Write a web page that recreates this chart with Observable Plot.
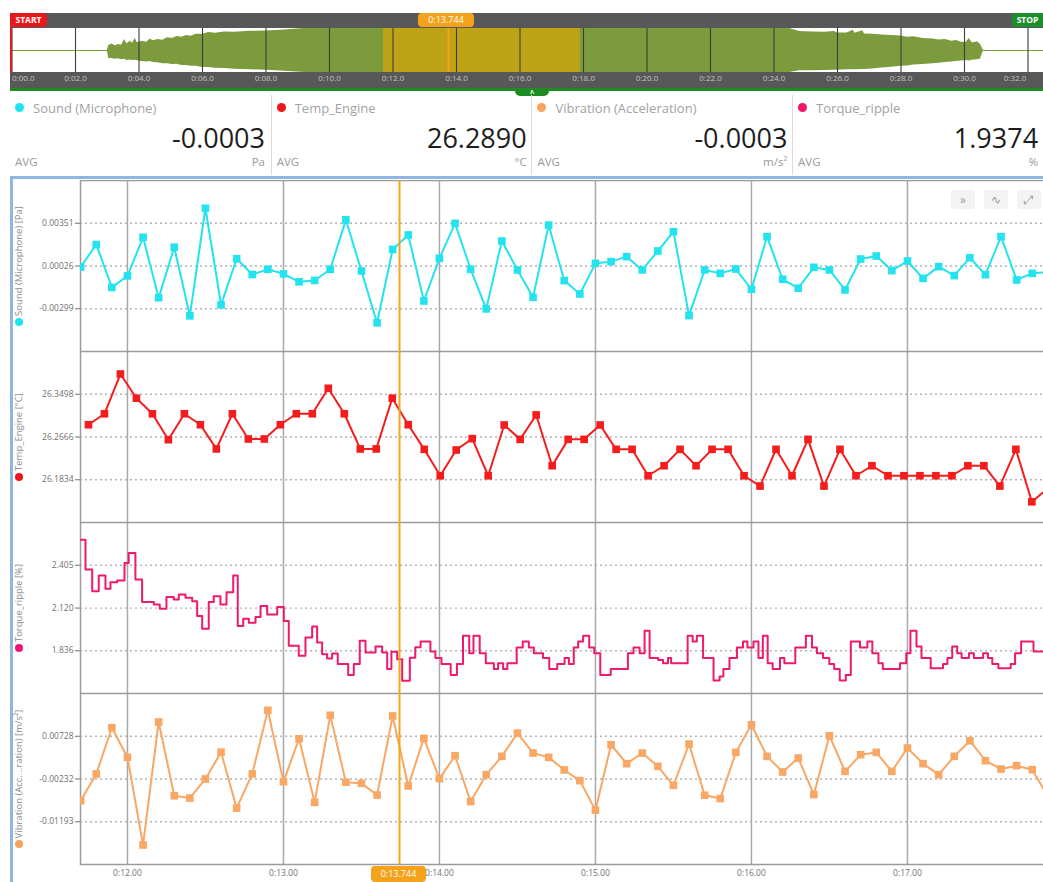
<!DOCTYPE html>
<html>
<head>
<meta charset="utf-8">
<script src="https://cdn.jsdelivr.net/npm/d3@7"></script>
<script src="https://cdn.jsdelivr.net/npm/@observablehq/plot@0.6"></script>
<style>
html,body{margin:0;padding:0;}
body{width:1043px;height:882px;overflow:hidden;position:relative;background:#fff;font-family:"Open Sans","Noto Sans",sans-serif;}
.a{position:absolute;}
.card{position:absolute;top:95px;height:80px;width:260px;}
.cname{position:absolute;left:23px;top:5px;font-size:13px;line-height:16px;color:#a2a2a2;white-space:nowrap;}
.cdot{position:absolute;left:5px;top:8px;width:9px;height:9px;border-radius:50%;}
.cval{position:absolute;right:5px;top:29px;font-size:27px;line-height:27px;color:#1d1d1d;white-space:nowrap;}
.cagg{position:absolute;left:5px;top:61px;font-size:11.5px;line-height:12px;color:#9a9a9a;}
.cunit{position:absolute;right:5px;top:61px;font-size:11.5px;line-height:12px;color:#9a9a9a;white-space:nowrap;}
.vlab{position:absolute;width:172px;height:14px;line-height:14px;text-align:center;transform:rotate(-90deg);font-size:9.5px;color:#8c8c8c;white-space:nowrap;}
.vdot{display:inline-block;width:8px;height:8px;border-radius:50%;vertical-align:-1px;margin-right:2px;}
.icon{position:absolute;top:190px;width:24px;height:19px;background:#f3f3f3;border-radius:3px;color:#9a9a9a;font-size:12px;line-height:19px;text-align:center;}
.tag{position:absolute;color:#fff;font-size:9px;line-height:14px;height:14px;text-align:center;white-space:nowrap;}
</style>
</head>
<body>
<script>
// ---------------- data ----------------
const cursorTime = 13.744;
const selection = [11.7, 17.9];
const overviewTicks = [0, 2, 4, 6, 8, 10, 12, 14, 16, 18, 20, 22, 24, 26, 28, 30, 32];
// waveform envelope of the overview strip (fraction of half height, above / below centre)
const envT   = [3.00, 3.05, 3.15, 3.25, 3.35, 3.45, 3.55, 3.62, 3.72, 3.80, 3.88, 3.95, 4.10, 4.25, 4.35, 4.45, 4.60, 4.75, 4.90, 5.05, 5.20, 5.35, 5.50, 5.65, 5.80, 6.00, 6.20, 6.40, 6.70, 7.00, 7.50, 8.00, 8.60, 9.20,
                24.50, 24.80, 25.20, 25.60, 25.90, 26.00, 26.30, 26.50, 26.55, 26.80, 26.85, 27.10, 27.40, 27.70, 28.00, 28.20, 28.40, 28.70, 29.00, 29.20, 29.40, 29.60, 29.75, 29.90, 30.05, 30.15, 30.25, 30.40, 30.50, 30.60];
const envTop = [0, 0.23, 0.30, 0.22, 0.27, 0.24, 0.50, 0.30, 0.42, 0.33, 0.55, 0.35, 0.42, 0.38, 0.52, 0.44, 0.50, 0.47, 0.58, 0.54, 0.64, 0.60, 0.68, 0.65, 0.74, 0.74, 0.82, 0.78, 0.84, 0.83, 0.87, 0.89, 0.93, 1,
                1, 0.86, 0.84, 0.83, 0.86, 0.80, 0.79, 0.92, 0.78, 0.90, 0.75, 0.74, 0.71, 0.68, 0.66, 0.60, 0.62, 0.55, 0.52, 0.48, 0.50, 0.42, 0.46, 0.38, 0.36, 0.55, 0.34, 0.40, 0.28, 0];
const envBot = [0, 0.38, 0.36, 0.40, 0.38, 0.42, 0.40, 0.45, 0.43, 0.46, 0.44, 0.47, 0.50, 0.52, 0.50, 0.55, 0.56, 0.60, 0.60, 0.64, 0.63, 0.68, 0.68, 0.72, 0.72, 0.77, 0.77, 0.81, 0.82, 0.85, 0.87, 0.90, 0.94, 1,
                1, 0.92, 0.92, 0.91, 0.90, 0.90, 0.88, 0.88, 0.87, 0.86, 0.86, 0.84, 0.80, 0.76, 0.72, 0.70, 0.66, 0.64, 0.60, 0.58, 0.55, 0.52, 0.50, 0.48, 0.46, 0.48, 0.44, 0.42, 0.40, 0];

const cardNames  = ["Sound (Microphone)", "Temp_Engine", "Vibration (Acceleration)", "Torque_ripple"];
const cardValues = [-0.0003, 26.2890, -0.0003, 1.9374];
const cardUnits  = ["Pa", "°C", "m/s²", "%"];
const cardColors = ["#1ee2f0", "#ee1519", "#f8a35c", "#f0156c"];

const xTicks = [12, 13, 14, 15, 16, 17];

const soundStart = 11.7, soundStep = 0.1;
const soundValues = [0.00018, 0.00189, -0.00137, -0.00049, 0.00244, -0.00215, 0.00169, -0.00353, 0.00465, -0.00270, 0.00081, -0.00039, 0.00001, -0.00034, -0.00094, -0.00084, 0.00001, 0.00377, -0.00012, -0.00406, 0.00152, 0.00262, -0.00240, 0.00084, 0.00350, 0.00001, -0.00300, 0.00216, -0.00004, -0.00212, 0.00337, -0.00085, -0.00187, 0.00046, 0.00059, 0.00097, -0.00004, 0.00140, 0.00287, -0.00351, -0.00004, -0.00030, 0.00003, -0.00151, 0.00249, -0.00075, -0.00143, 0.00016, -0.00004, -0.00156, 0.00079, 0.00102, -0.00009, 0.00064, -0.00068, 0.00021, -0.00047, 0.00089, -0.00040, 0.00249, -0.00080, -0.00030, -0.00020];
const soundTicks = [0.00351, 0.00026, -0.00299];
const soundDomain = [-0.00624, 0.00676];

const tempStart = 11.75, tempStep = 0.1025;
const tempValues = [26.2905, 26.3118, 26.3892, 26.3421, 26.3118, 26.2614, 26.3118, 26.2905, 26.2434, 26.3118, 26.2627, 26.2627, 26.2905, 26.3118, 26.3118, 26.3614, 26.3118, 26.2434, 26.2434, 26.3421, 26.2905, 26.2426, 26.1912, 26.2413, 26.2634, 26.1912, 26.2900, 26.2620, 26.3095, 26.2107, 26.2620, 26.2620, 26.2900, 26.2426, 26.2426, 26.1912, 26.2107, 26.2426, 26.2107, 26.2426, 26.2426, 26.1912, 26.1711, 26.2426, 26.1912, 26.2620, 26.1711, 26.2426, 26.1912, 26.2107, 26.1912, 26.1912, 26.1912, 26.1912, 26.1912, 26.2107, 26.2107, 26.1711, 26.2426, 26.1405, 26.1665];
const tempTicks = [26.3498, 26.2666, 26.1834];
const tempDomain = [26.1002, 26.4330];

const torqueTimes = [11.699, 11.731, 11.774, 11.816, 11.859, 11.891, 11.934, 11.981, 12.008, 12.051, 12.094, 12.169, 12.207, 12.250, 12.297, 12.329, 12.372, 12.415, 12.447, 12.479, 12.521, 12.553, 12.596, 12.635, 12.678, 12.707, 12.742, 12.778, 12.821, 12.853, 12.896, 12.960, 13.002, 13.034, 13.098, 13.141, 13.184, 13.216, 13.248, 13.280, 13.312, 13.348, 13.415, 13.451, 13.489, 13.526, 13.590, 13.633, 13.665, 13.692, 13.729, 13.761, 13.810, 13.845, 13.879, 13.942, 13.974, 14.013, 14.072, 14.112, 14.151, 14.191, 14.218, 14.258, 14.297, 14.349, 14.376, 14.408, 14.435, 14.495, 14.534, 14.573, 14.605, 14.664, 14.704, 14.755, 14.802, 14.830, 14.861, 14.889, 14.921, 14.960, 14.992, 15.031, 15.098, 15.208, 15.244, 15.283, 15.315, 15.347, 15.402, 15.433, 15.465, 15.485, 15.591, 15.623, 15.650, 15.690, 15.757, 15.796, 15.820, 15.859, 15.907, 15.946, 15.974, 16.013, 16.045, 16.073, 16.104, 16.136, 16.183, 16.211, 16.281, 16.349, 16.388, 16.420, 16.459, 16.499, 16.530, 16.566, 16.605, 16.637, 16.696, 16.743, 16.775, 16.814, 16.842, 16.952, 16.992, 17.019, 17.058, 17.090, 17.149, 17.228, 17.256, 17.287, 17.319, 17.347, 17.394, 17.426, 17.485, 17.516, 17.544, 17.583, 17.662, 17.690, 17.729, 17.808, 17.917];
const torqueValues = [2.574, 2.376, 2.232, 2.336, 2.248, 2.292, 2.303, 2.420, 2.486, 2.310, 2.160, 2.144, 2.116, 2.193, 2.177, 2.210, 2.188, 2.166, 2.067, 1.983, 2.160, 2.199, 2.144, 2.226, 2.336, 2.001, 2.049, 2.023, 2.060, 2.133, 2.078, 2.127, 2.034, 1.869, 1.802, 1.924, 1.997, 1.891, 1.813, 1.785, 1.818, 1.747, 1.675, 1.747, 1.902, 1.825, 1.864, 1.825, 1.714, 1.829, 1.780, 1.636, 1.790, 1.860, 1.898, 1.831, 1.787, 1.747, 1.675, 1.747, 1.935, 1.820, 1.935, 1.820, 1.753, 1.715, 1.753, 1.715, 1.753, 1.858, 1.898, 1.858, 1.820, 1.787, 1.715, 1.747, 1.787, 1.747, 1.858, 1.898, 1.935, 1.858, 1.820, 1.675, 1.715, 1.820, 1.858, 1.820, 1.969, 1.787, 1.775, 1.753, 1.787, 1.753, 1.935, 1.898, 1.935, 1.787, 1.638, 1.664, 1.715, 1.787, 1.858, 1.898, 1.858, 1.898, 1.787, 1.935, 1.753, 1.715, 1.787, 1.753, 1.858, 1.935, 1.858, 1.820, 1.787, 1.747, 1.715, 1.638, 1.675, 1.898, 1.858, 1.898, 1.820, 1.753, 1.715, 1.753, 1.820, 1.969, 1.864, 1.787, 1.720, 1.747, 1.787, 1.864, 1.820, 1.787, 1.820, 1.787, 1.820, 1.787, 1.747, 1.720, 1.747, 1.820, 1.898, 1.831, 1.831];
const torqueTicks = [2.405, 2.120, 1.836];
const torqueDomain = [1.5515, 2.6895];

const vibStart = 11.7, vibStep = 0.1;
const vibValues = [-0.00721, -0.00119, 0.00920, 0.00257, -0.01715, 0.01048, -0.00609, -0.00661, -0.00232, 0.00370, -0.00887, -0.00119, 0.01312, -0.00292, 0.00672, -0.00759, 0.01199, -0.00307, -0.00330, -0.00593, 0.01184, -0.00390, 0.00680, -0.00225, 0.00291, -0.00740, -0.00135, 0.00276, 0.00799, 0.00351, 0.00254, -0.00030, -0.00269, -0.00934, 0.00537, 0.00112, 0.00351, 0.00052, -0.00374, 0.00552, -0.00598, -0.00673, 0.00366, 0.00986, 0.00276, -0.00075, 0.00239, -0.00583, 0.00739, -0.00060, 0.00313, 0.00366, -0.00060, 0.00463, 0.00112, -0.00135, 0.00276, 0.00627, 0.00179, -0.00008, 0.00067, -0.00023, -0.00620];
const vibTicks = [0.00728, -0.00232, -0.01193];
const vibDomain = [-0.02154, 0.01689];

// ---------------- helpers ----------------
const body = document.body;
function add(html) { body.insertAdjacentHTML("beforeend", html); }
function place(el, left, top) { el.style.position = "absolute"; el.style.left = left + "px"; el.style.top = top + "px"; body.appendChild(el); }
const pad2 = n => String(n).padStart(2, "0");
const fmtCursor = t => "0:" + t.toFixed(3);

// ---------------- overview strip ----------------
add(`<div class="a" style="left:10px;top:13px;width:1033px;height:75px;background:#585858"></div>`);
add(`<div class="a" style="left:10px;top:28px;width:1033px;height:44px;background:#fff"></div>`);

const env = envT.map((t, i) => ({t, top: envTop[i], bot: -envBot[i]}));
const ov = Plot.plot({
  width: 1033, height: 60,
  marginLeft: 0, marginRight: 0, marginTop: 0, marginBottom: 16,
  x: {domain: [-0.0472, 32.4882], axis: null},
  y: {domain: [-1, 1], axis: null},
  style: {background: "transparent", fontFamily: "Open Sans, sans-serif"},
  marks: [
    Plot.ruleY([0], {stroke: "#7b9b3c", strokeWidth: 1}),
    Plot.areaY(env, {x: "t", y1: "bot", y2: "top", fill: "#7b9b3c"}),
    Plot.rect([selection], {x1: d => d[0], x2: d => d[1], fill: "#e8a800", fillOpacity: 0.62}),
    Plot.ruleX(overviewTicks, {stroke: "#3c3c3c", strokeWidth: 1.1}),
    Plot.ruleX([cursorTime], {stroke: "#f7a21b", strokeWidth: 2}),
    Plot.text(overviewTicks.slice(0, 1), {x: d => d, text: d => "0:" + pad2(d) + ".0", frameAnchor: "bottom", dy: 8, textAnchor: "start", fill: "#c2c2c2", fontSize: 8}),
    Plot.text(overviewTicks.slice(1, -1), {x: d => d, text: d => "0:" + pad2(d) + ".0", frameAnchor: "bottom", dy: 8, fill: "#c2c2c2", fontSize: 8}),
    Plot.text(overviewTicks.slice(-1), {x: d => d, text: d => "0:" + pad2(d) + ".0", frameAnchor: "bottom", dy: 8, dx: -13, fill: "#c2c2c2", fontSize: 8})
  ]
});
place(ov, 10, 28);
add(`<div class="a" style="left:10px;top:28px;width:2px;height:44px;background:#e8171b"></div>`);
add(`<div class="tag" style="left:10px;top:13px;width:37px;background:#e8171b;border-radius:0 4px 4px 0;font-weight:bold;font-size:8.5px">START</div>`);
add(`<div class="tag" style="left:418px;top:13px;width:56px;background:#f5a21b;border-radius:4px">${fmtCursor(cursorTime)}</div>`);
add(`<div class="tag" style="left:1012px;top:13px;width:31px;background:#1b8f2a;border-radius:4px 0 0 4px;font-weight:bold;font-size:8.5px">STOP</div>`);
add(`<div class="a" style="left:10px;top:88px;width:1033px;height:3px;background:#1e8c23"></div>`);
add(`<div class="a" style="left:515px;top:88px;width:34px;height:8px;background:#1e8c23;border-radius:0 0 5px 5px;color:#fff;font-size:8px;line-height:9px;text-align:center;font-weight:bold">^</div>`);

// ---------------- cards ----------------
cardNames.forEach((name, i) => {
  const left = 10 + 260.7 * i;
  const last = i === cardNames.length - 1;
  add(`<div class="card" style="left:${left}px;${last ? "width:250px;" : ""}${i > 0 ? "border-left:1px solid #dcdcdc;" : ""}">
    <div class="cdot" style="background:${cardColors[i]}"></div>
    <div class="cname">${name}</div>
    <div class="cval">${cardValues[i].toFixed(4)}</div>
    <div class="cagg">AVG</div>
    <div class="cunit">${cardUnits[i]}</div>
  </div>`);
});

// ---------------- charts container border ----------------
add(`<div class="a" style="left:10px;top:176px;width:1033px;height:3px;background:#8fb5e3"></div>`);
add(`<div class="a" style="left:10px;top:176px;width:3px;height:706px;background:#8fb5e3"></div>`);

// ---------------- panels ----------------
const xDomain = [11.699, 17.917];
function panel(cfg) {
  const bottom = !!cfg.bottom;
  const marks = [
    Plot.ruleY(cfg.ticks, {stroke: "#b3b3b3", strokeDasharray: "2,3", strokeWidth: 1.3}),
    Plot.ruleX(xTicks, {stroke: "#a9a9a9", strokeWidth: 1.5}),
    Plot.frame({stroke: "#9b9b9b", strokeWidth: 1.5}),
    Plot.line(cfg.data, {x: "t", y: "v", stroke: cfg.color, strokeWidth: 2, curve: cfg.curve || "linear", clip: true})
  ];
  if (cfg.markers) marks.push(Plot.dot(cfg.data, {x: "t", y: "v", symbol: "square", r: 4.3, fill: cfg.color, clip: true}));
  marks.push(Plot.ruleX([cursorTime], {stroke: "#f7a41c", strokeWidth: 2}));
  return Plot.plot({
    width: 1038, height: bottom ? 189 : 171,
    marginLeft: 68, marginRight: 0, marginTop: 0, marginBottom: bottom ? 18 : 0,
    x: bottom
      ? {domain: xDomain, ticks: xTicks, tickFormat: d => "0:" + d + ".00", tickSize: 0, tickPadding: 5, label: null}
      : {domain: xDomain, axis: null},
    y: {domain: cfg.domain, ticks: cfg.ticks, tickFormat: cfg.fmt, tickSize: 5, tickPadding: 2, label: null},
    style: {background: "transparent", color: "#707070", fontSize: "8.5px", fontFamily: "Open Sans, sans-serif"},
    marks
  });
}
const soundData = soundValues.map((v, i) => ({t: soundStart + i * soundStep, v}));
const tempData = tempValues.map((v, i) => ({t: tempStart + i * tempStep, v}));
const torqueData = torqueValues.map((v, i) => ({t: torqueTimes[i], v}));
const vibData = vibValues.map((v, i) => ({t: vibStart + i * vibStep, v}));

place(panel({data: soundData, color: "#22e3ee", markers: true, ticks: soundTicks, domain: soundDomain, fmt: d => d.toFixed(5)}), 12, 180);
place(panel({data: tempData, color: "#f41c1c", markers: true, ticks: tempTicks, domain: tempDomain, fmt: d => d.toFixed(4)}), 12, 351);
place(panel({data: torqueData, color: "#ee1a6e", markers: false, curve: "step-after", ticks: torqueTicks, domain: torqueDomain, fmt: d => d.toFixed(3)}), 12, 522);
place(panel({data: vibData, color: "#f8a765", markers: true, ticks: vibTicks, domain: vibDomain, fmt: d => d.toFixed(5), bottom: true}), 12, 693);

// vertical series labels
const vLabels = [
  ["Sound (Microphone) [Pa]", "#1ee2f0", 265.5],
  ["Temp_Engine [°C]", "#ee1519", 436.5],
  ["Torque_ripple [%]", "#f0156c", 607.5],
  ["Vibration (Acc....ration) [m/s²]", "#f8a35c", 778.5]
];
vLabels.forEach(([text, color, cy]) => {
  add(`<div class="vlab" style="left:${19 - 86}px;top:${cy - 7}px"><span class="vdot" style="background:${color}"></span>${text}</div>`);
});

// toolbar icons
add(`<div class="icon" style="left:951px">»</div>`);
add(`<div class="icon" style="left:984px">∿</div>`);
add(`<div class="icon" style="left:1017px">⤢</div>`);

// cursor label at bottom
add(`<div class="tag" style="left:371px;top:866px;width:55px;height:16px;line-height:16px;background:#f5a21b;border-radius:4px">${fmtCursor(cursorTime)}</div>`);
</script>
</body>
</html>
